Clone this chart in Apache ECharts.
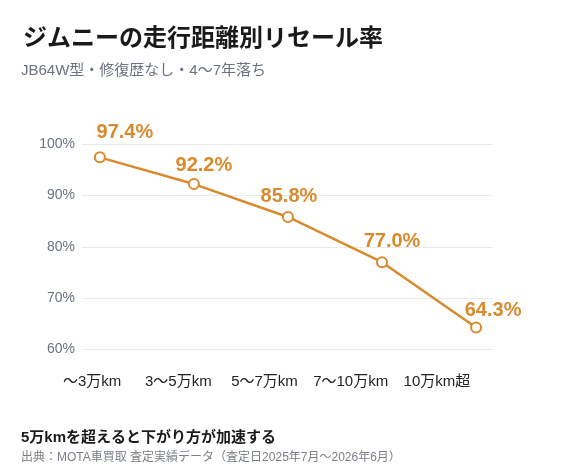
<!DOCTYPE html>
<html>
<head>
<meta charset="utf-8">
<script src="https://cdn.jsdelivr.net/npm/echarts@6/dist/echarts.min.js"></script>
<style>
html,body{margin:0;padding:0;background:#fff;}
#c{width:569px;height:474px;}
</style>
</head>
<body>
<div id="c"></div>
<script>
const categories = ['～3万km', '3～5万km', '5～7万km', '7～10万km', '10万km超'];
const resaleRate = [97.4, 92.2, 85.8, 77.0, 64.3];
const yTicks = [60, 70, 80, 90, 100];

const FONT = '"Helvetica Neue", Arial, "Liberation Sans", "Noto Sans CJK JP", sans-serif';
const ORANGE = '#D98A2C';
const labelShift = [[25, -4], [10, 2], [1, 1], [10, 0], [17, 4]];

const chart = echarts.init(document.getElementById('c'), null, {renderer: 'canvas'});
chart.setOption({
  backgroundColor: '#ffffff',
  animation: false,
  textStyle: {fontFamily: FONT},
  title: [
    {text: 'ジムニーの走行距離別リセール率', left: 18, top: 22,
     textStyle: {fontSize: 24, fontWeight: 'bold', color: '#1a1a1a', fontFamily: FONT}},
    {text: 'JB64W型・修復歴なし・4〜7年落ち', left: 16, top: 58,
     textStyle: {fontSize: 15, fontWeight: 'normal', color: '#6b7280', fontFamily: FONT}},
    {text: '5万kmを超えると下がり方が加速する', left: 16, top: 425,
     textStyle: {fontSize: 15, fontWeight: 'bold', color: '#1a1a1a', fontFamily: FONT}},
    {text: '出典：MOTA車買取 査定実績データ（査定日2025年7月〜2026年6月）', left: 16, top: 447,
     textStyle: {fontSize: 12, fontWeight: 'normal', color: '#7a7f87', fontFamily: FONT}}
  ],
  grid: [
    {left: 82, right: 76, top: 144, bottom: 124.5},
    {left: 49, right: 89, top: 144, bottom: 124.5}
  ],
  xAxis: [
    {type: 'value', gridIndex: 0, min: -0.19, max: 4.18, show: false},
    {type: 'category', gridIndex: 1, data: categories, boundaryGap: true,
     axisLine: {show: false}, axisTick: {show: false}, splitLine: {show: false},
     axisLabel: {interval: 0, margin: 25, fontSize: 15, color: '#222222', fontFamily: FONT}}
  ],
  yAxis: [
    {type: 'value', gridIndex: 0, min: yTicks[0], max: yTicks[yTicks.length - 1], interval: 10,
     axisLine: {show: false}, axisTick: {show: false},
     splitLine: {lineStyle: {color: '#e8eaed', width: 1}},
     axisLabel: {margin: 7, fontSize: 14, color: '#6b7280', fontFamily: FONT, formatter: '{value}%'}},
    {type: 'value', gridIndex: 1, min: 60, max: 100, show: false}
  ],
  series: [{
    type: 'line',
    xAxisIndex: 0, yAxisIndex: 0,
    data: resaleRate.map((v, i) => ({
      value: [i, v],
      label: {offset: labelShift[i]}
    })),
    lineStyle: {color: ORANGE, width: 2.5},
    itemStyle: {color: '#ffffff', borderColor: ORANGE, borderWidth: 2},
    symbol: 'circle',
    symbolSize: 10,
    label: {
      show: true, position: 'top', distance: 5,
      color: ORANGE, fontSize: 20, fontWeight: 'bold', fontFamily: FONT,
      formatter: p => p.value[1].toFixed(1) + '%'
    }
  }]
});
</script>
</body>
</html>
